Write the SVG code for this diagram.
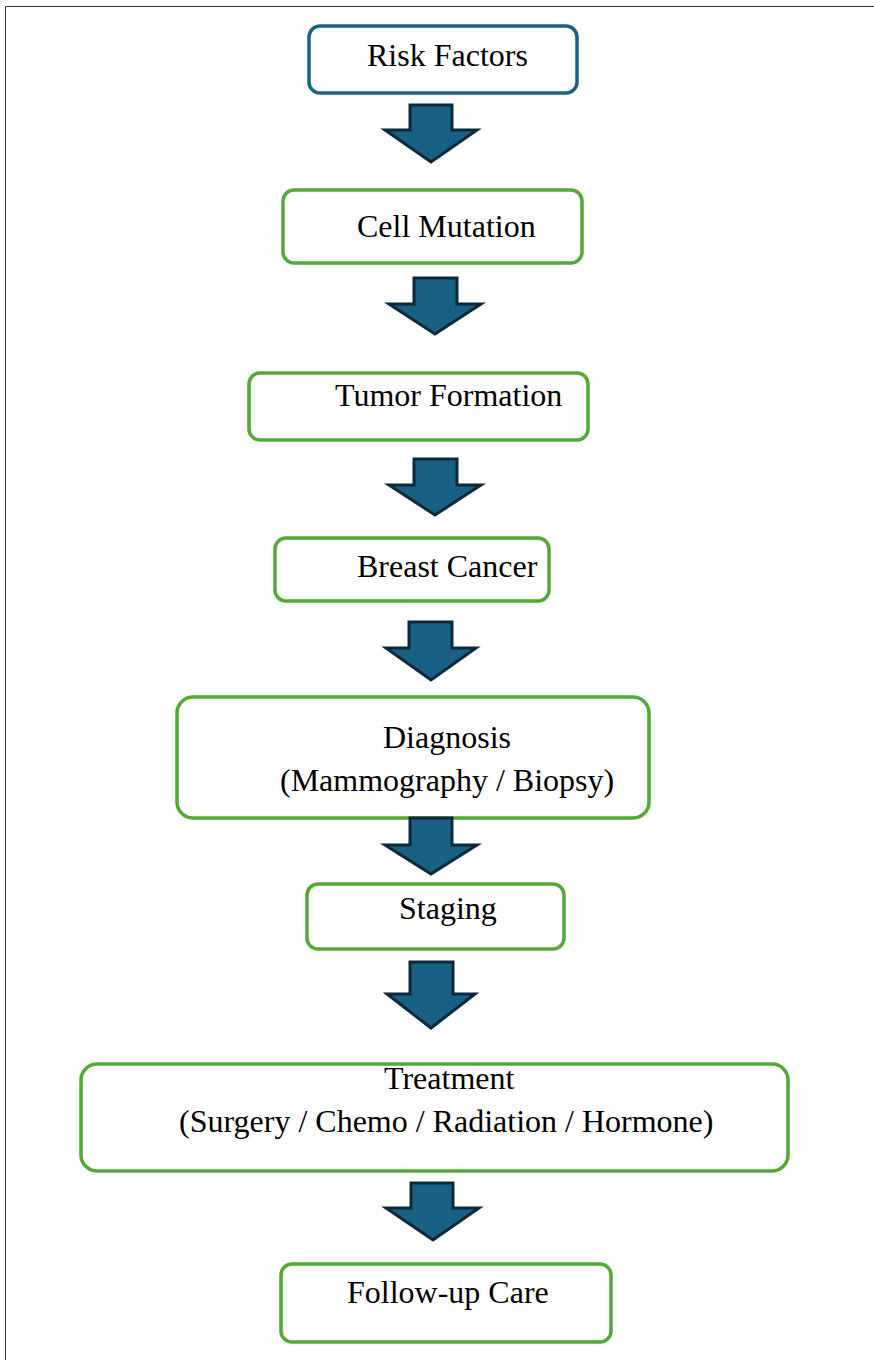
<svg xmlns="http://www.w3.org/2000/svg" width="874" height="1360" viewBox="0 0 874 1360">
<style>
.box{fill:#fff;stroke:#52a936;stroke-width:3.5}
.blue{stroke:#1b6286}
.t{font-family:"Liberation Serif","Times New Roman",serif;font-size:32px;fill:#000}
.arr{fill:#186084;stroke:#0c2839;stroke-width:3;stroke-linejoin:miter}
</style>
<rect width="874" height="1360" fill="#fff"/>
<path d="M5.5,1360 V6.5 H874" fill="none" stroke="#333" stroke-width="1"/>
<g id="n1"><rect class="box blue" x="309" y="26" width="268" height="67" rx="11"/><text class="t" x="367" y="66">Risk Factors</text></g>
<g id="n2"><rect class="box" x="283" y="190" width="299" height="73" rx="11"/><text class="t" x="357" y="237">Cell Mutation</text></g>
<g id="n3"><rect class="box" x="249" y="373" width="339" height="67" rx="11"/><text class="t" x="335" y="406">Tumor Formation</text></g>
<g id="n4"><rect class="box" x="275" y="538" width="274" height="63" rx="11"/><text class="t" x="357" y="577">Breast Cancer</text></g>
<g id="n5"><rect class="box" x="177" y="697" width="472" height="121" rx="16"/><text class="t" x="383" y="748">Diagnosis</text><text class="t" x="280" y="791">(Mammography / Biopsy)</text></g>
<g id="n6"><rect class="box" x="307" y="884" width="257" height="65" rx="11"/><text class="t" x="399" y="919">Staging</text></g>
<g id="n7"><rect class="box" x="81" y="1064" width="707" height="107" rx="16"/><text class="t" x="384" y="1089">Treatment</text><text class="t" x="179" y="1132">(Surgery / Chemo / Radiation / Hormone)</text></g>
<g id="n8"><rect class="box" x="281" y="1264" width="330" height="78" rx="11"/><text class="t" x="347" y="1303">Follow-up Care</text></g>
<g id="connectors">
<path class="arr" d="M410,105 H452 V130 H477 L431,162 L385,130 H410 Z"/>
<path class="arr" d="M414,278 H457 V304 H481 L435,334 L389,304 H414 Z"/>
<path class="arr" d="M414,459 H457 V485 H481 L435,515 L389,485 H414 Z"/>
<path class="arr" d="M409,622 H452 V648 H476 L431,680 L386,648 H409 Z"/>
<path class="arr" d="M410,818 H452 V845 H477 L431,874 L385,845 H410 Z"/>
<path class="arr" d="M410,962 H453 V994 H475 L431,1028 L387,994 H410 Z"/>
<path class="arr" d="M411,1183 H453 V1208 H479 L433,1240 L386,1208 H411 Z"/>
</g>
</svg>
